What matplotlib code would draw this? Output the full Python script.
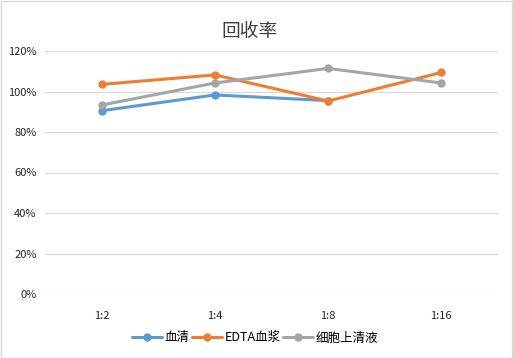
import matplotlib
matplotlib.use("Agg")
import matplotlib.pyplot as plt
import numpy as np

plt.rcParams['font.family'] = ['Noto Sans CJK SC', 'DejaVu Sans']

categories = ["1:2", "1:4", "1:8", "1:16"]
serum = [0.905, 0.983, 0.955, np.nan]
edta = [1.035, 1.082, 0.953, 1.094]
cell = [0.933, 1.042, 1.114, 1.042]
series_names = ["血清", "EDTA血浆", "细胞上清液"]
colors = ["#5B9BD5", "#ED7D31", "#A5A5A5"]
yticks = [0, 0.2, 0.4, 0.6, 0.8, 1.0, 1.2]

fig = plt.figure(figsize=(5.13, 3.58), dpi=100)
ax = fig.add_axes([45/513, 1-294/358, 453/513, 243/358])

x = np.arange(len(categories))
for vals, name, c in zip([serum, edta, cell], series_names, colors):
    ax.plot(x, vals, color=c, lw=2.2, marker='o', ms=5, label=name,
            solid_capstyle='round', solid_joinstyle='round')

ax.set_xlim(-0.5, len(categories)-0.5)
ax.set_ylim(0, 1.2)
ax.set_yticks(yticks)
ax.set_yticklabels([f"{int(round(v*100))}%" for v in yticks])
ax.set_xticks(x)
ax.set_xticklabels(categories)
ax.grid(axis='y', color='#D9D9D9', lw=0.9)
ax.set_axisbelow(True)
for s in ax.spines.values():
    s.set_visible(False)
ax.tick_params(length=0, colors='#262626', labelsize=8)
ax.tick_params(axis='x', pad=12)
ax.tick_params(axis='y', pad=6)

fig.text(0.487, 1-31/358, "回收率", ha='center', va='center', fontsize=13.5, color='#404040')

leg = fig.legend(loc='center', bbox_to_anchor=(0.497, 1-338/358), ncol=3, frameon=False,
                 fontsize=9, handlelength=2.4, columnspacing=0.2, handletextpad=0.2,
                 borderpad=0)
for t in leg.get_texts():
    t.set_color('#000000')

fig.patches.append(plt.Rectangle((0.001, 0.001), 0.997, 0.997, transform=fig.transFigure,
                                 fill=False, edgecolor='#D9D9D9', lw=1))
fig.savefig("out.png", dpi=100)
